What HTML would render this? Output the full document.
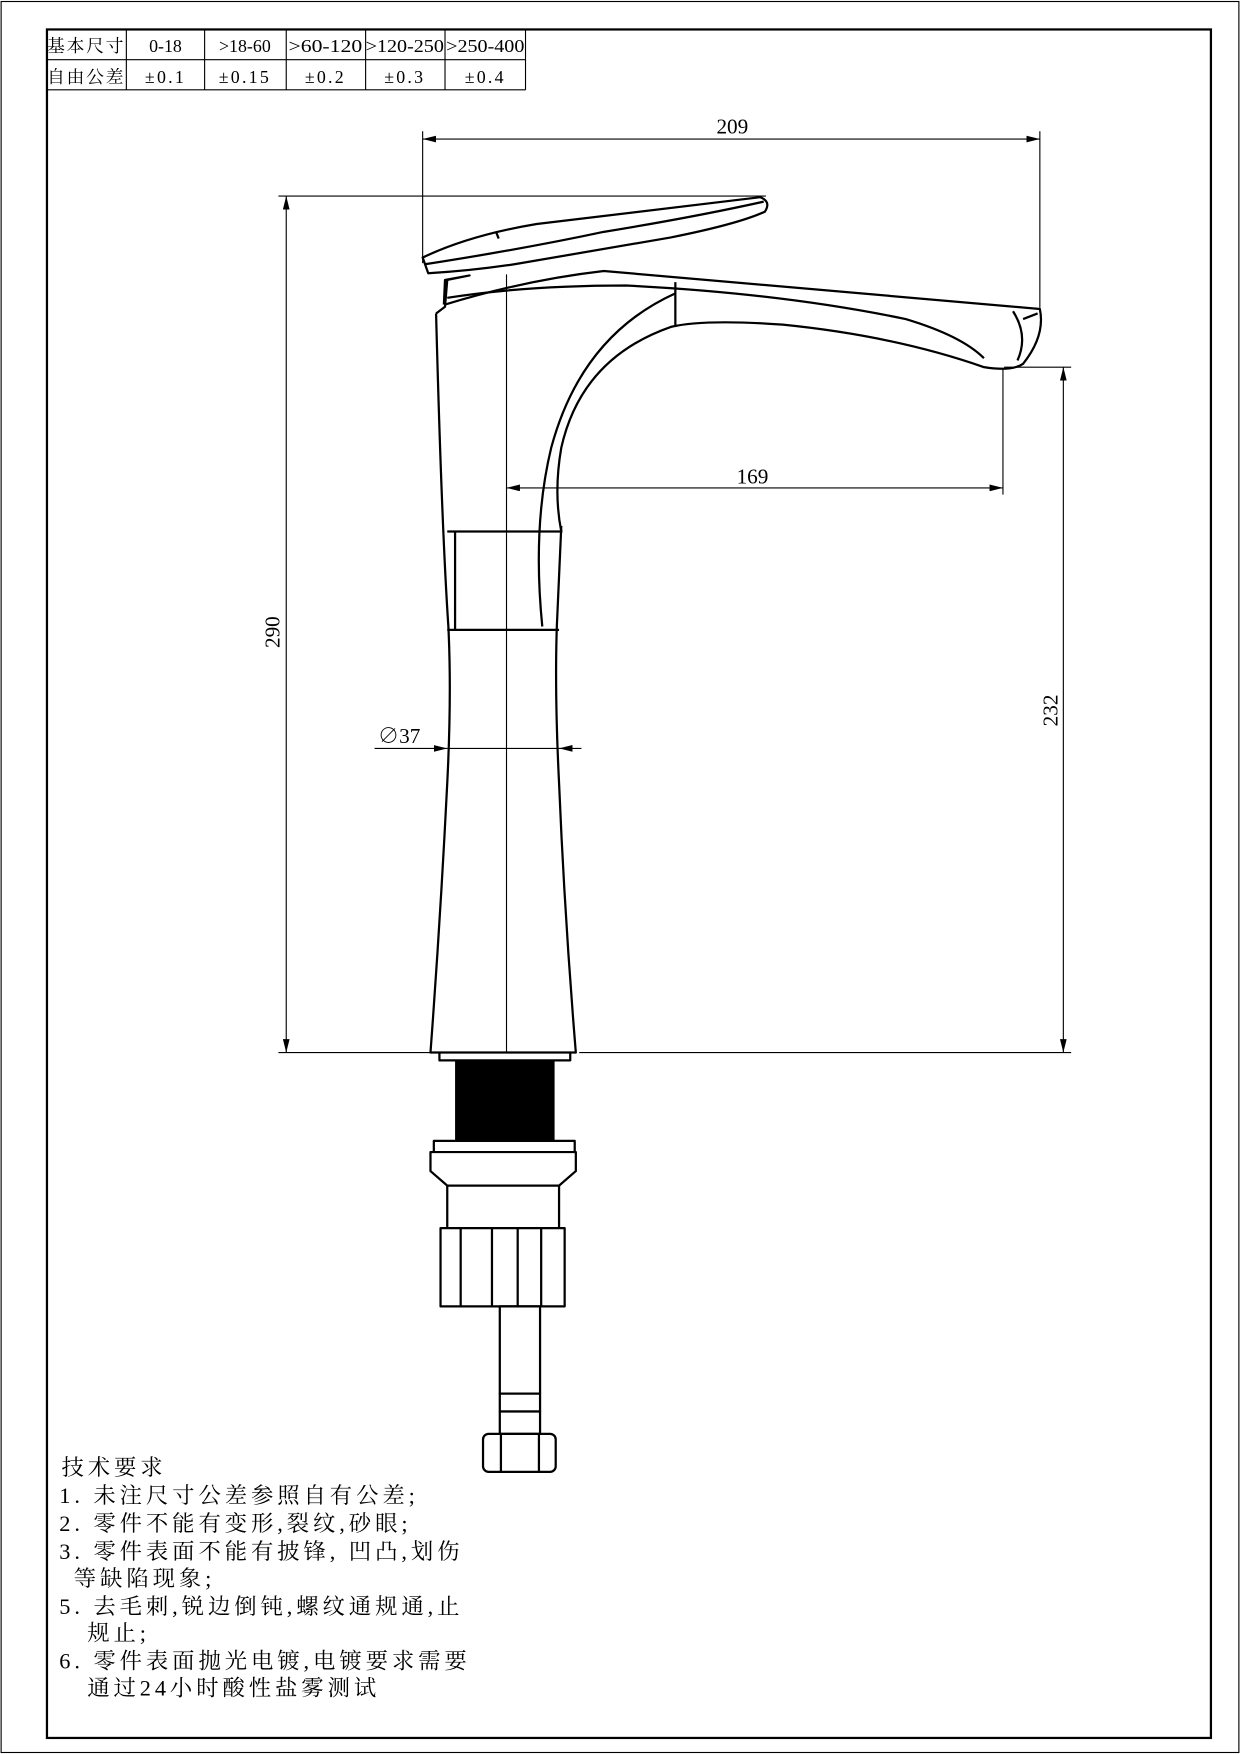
<!DOCTYPE html>
<html><head><meta charset="utf-8"><style>
html,body{margin:0;padding:0;background:#fff;}
svg{display:block;}
text{font-family:"Liberation Serif","Noto Serif CJK SC",serif;fill:#000;}
</style></head><body>
<svg width="1240" height="1754" viewBox="0 0 1109 1568" xmlns="http://www.w3.org/2000/svg">
<defs>
<marker id="a" viewBox="0 0 12 6" refX="12" refY="3" markerWidth="12" markerHeight="6" orient="auto-start-reverse" markerUnits="userSpaceOnUse"><path d="M0,0 L12,3 L0,6z" fill="#000"/></marker>
</defs>
<rect x="1" y="1" width="1107" height="1566" fill="none" stroke="#000" stroke-width="1"/>
<rect x="42" y="26" width="1041" height="1528" fill="none" stroke="#000" stroke-width="2"/>
<!-- table -->
<g stroke="#000" stroke-width="1" fill="none">
<path d="M42,53H470M42,80H470M470,26V80M113,26V80M183,26V80M256,26V80M327,26V80M398,26V80"/>
</g>
<g font-size="16" text-anchor="middle">
<text x="77" y="46" letter-spacing="1.5">基本尺寸</text><text x="148" y="46">0-18</text><text x="219" y="46">&gt;18-60</text><text x="291" y="46" textLength="66" lengthAdjust="spacingAndGlyphs">&gt;60-120</text><text x="362" y="46" textLength="70" lengthAdjust="spacingAndGlyphs">&gt;120-250</text><text x="434" y="46" textLength="70" lengthAdjust="spacingAndGlyphs">&gt;250-400</text>
<text x="77" y="74" letter-spacing="1.5">自由公差</text><text x="148" y="74" letter-spacing="2">±0.1</text><text x="219" y="74" letter-spacing="2">±0.15</text><text x="291" y="74" letter-spacing="2">±0.2</text><text x="362" y="74" letter-spacing="2">±0.3</text><text x="434" y="74" letter-spacing="2">±0.4</text>
</g>
<!-- dimensions -->
<g stroke="#000" stroke-width="1" fill="none">
<path d="M378,117V235M930,117V275"/>
<path d="M378,124H930" marker-start="url(#a)" marker-end="url(#a)"/>
<path d="M249,175H685M249,941H385"/>
<path d="M256,175V941" marker-start="url(#a)" marker-end="url(#a)"/>
<path d="M898,328H958M518,941H958"/>
<path d="M951,328V941" marker-start="url(#a)" marker-end="url(#a)"/>
<path d="M897,330V442"/>
<path d="M453,436H897" marker-start="url(#a)" marker-end="url(#a)"/>
<path d="M335,669H400" marker-end="url(#a)"/>
<path d="M520,669H500" marker-end="url(#a)"/>
<path d="M400,669H500"/>
<path d="M453,245V941"/>
</g>
<g font-size="19" text-anchor="middle">
<text x="655" y="119">209</text>
<text x="673" y="432">169</text>
<text x="357" y="664">∅37</text>
<text transform="translate(250,565) rotate(-90)">290</text>
<text transform="translate(946,635) rotate(-90)">232</text>
</g>
<!-- faucet body -->
<g stroke="#000" stroke-width="2" fill="none" stroke-linejoin="round">
<path d="M390,280 Q395,470 401,560 Q404,620 400,700 Q394,820 385,941 H515 Q505,820 500,700 Q496,620 498,560 L502,470"/>
<path d="M400,475H503M400,563H500M407,475V563"/>
<path d="M390,280 L398,274 L400,250 L420,246 L398,250 L397,272"/>
<!-- spout -->
<path d="M398,272 Q470,250 540,242 L930,276 Q935,300 915,325 Q905,332 880,328 Q800,300 700,290 Q630,285 600,292 Q520,320 502,400 Q495,440 502,475"/>
<path d="M400,266 Q470,255 560,255 Q700,262 810,285 Q860,300 880,320"/>
<path d="M485,560 Q476,470 493,400 Q520,300 604,262"/>
<path d="M604,252V292"/>
<path d="M906,278 Q920,300 910,322 M915,285 L928,280"/>
<!-- handle -->
<path d="M378,230 Q420,210 480,200 L680,176 Q690,180 684,189 Q660,200 600,212 Q520,226 460,236 Q420,242 383,244 Z"/>
<path d="M380,236 Q470,222 540,207 Q620,194 683,180"/>
<path d="M444,208 L446,213"/>
<!-- base -->
<path d="M393,941 V948 H510 V941"/>
</g>
<rect x="407" y="948" width="89" height="72" fill="#000"/>
<g stroke="#000" stroke-width="2" fill="none">
<path d="M440,955H478M450,962H478"/>
</g>
<g stroke="#000" stroke-width="2" fill="#fff" stroke-linejoin="round">
<rect x="388" y="1020" width="126" height="10"/>
<path d="M385,1030 H515 V1047 L500,1060 H400 L385,1047 Z"/>
<rect x="400" y="1060" width="100" height="40"/>
<rect x="394" y="1098" width="111" height="70"/>
<path d="M412,1098V1168M440,1098V1168M463,1098V1168M484,1098V1168"/>
<rect x="447" y="1168" width="36" height="78"/>
<rect x="447" y="1246" width="36" height="16"/>
<rect x="447" y="1262" width="36" height="20"/>
<rect x="432" y="1282" width="65" height="34" rx="5"/>
<path d="M448,1282V1316M482,1282V1316"/>
</g>
<!-- notes -->
<g font-size="20" letter-spacing="3.5">
<text x="55" y="1319">技术要求</text>
<text x="53" y="1344">1. 未注尺寸公差参照自有公差;</text>
<text x="53" y="1369">2. 零件不能有变形,裂纹,砂眼;</text>
<text x="53" y="1394">3. 零件表面不能有披锋, 凹凸,划伤</text>
<text x="66" y="1418">等缺陷现象;</text>
<text x="53" y="1443">5. 去毛刺,锐边倒钝,螺纹通规通,止</text>
<text x="78" y="1467">规止;</text>
<text x="53" y="1492">6. 零件表面抛光电镀,电镀要求需要</text>
<text x="78" y="1516">通过24小时酸性盐雾测试</text>
</g>
</svg>
</body></html>
